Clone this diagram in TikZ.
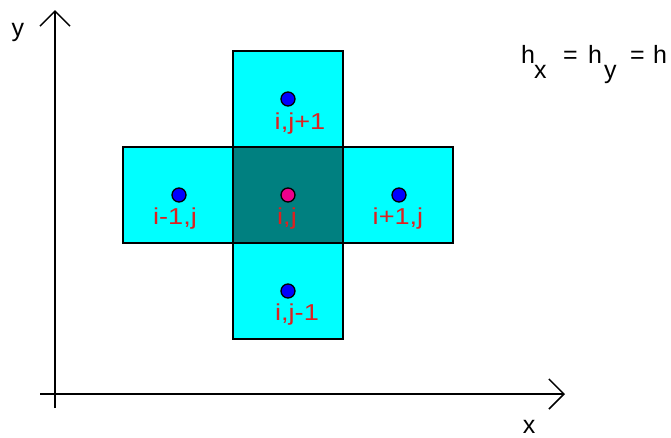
\documentclass[tikz,border=0pt]{standalone}
\usepackage{fontspec}
\setmainfont{Liberation Sans}
\usetikzlibrary{arrows.meta}
\definecolor{cellcyan}{RGB}{0,255,255}
\definecolor{celldark}{RGB}{0,128,128}
\definecolor{lblred}{RGB}{222,32,32}
\tikzset{
  cell/.style={draw=black, line width=1.6pt, fill=cellcyan, minimum width=110pt, minimum height=96pt, inner sep=0pt},
  centercell/.style={cell, fill=celldark},
  pt/.style={circle, draw=black, line width=1.3pt, fill=blue, minimum size=14pt, inner sep=0pt},
  ptc/.style={pt, fill=magenta},
  lbl/.style={text=lblred, font=\fontsize{23}{26}\selectfont, anchor=base, inner sep=0pt},
  axis/.style={line width=1.5pt, -{Straight Barb[length=15pt,width=30pt,line width=1.5pt]}},
  axlbl/.style={font=\fontsize{25}{28}\selectfont, anchor=base, inner sep=0pt},
  rel/.style={font=\fontsize{25}{28}\selectfont, anchor=base west, inner sep=0pt}
}
\newcommand{\wide}[1]{\scalebox{1.18}[1]{#1}}
\begin{document}
\begin{tikzpicture}[x=1pt,y=-1pt]
\useasboundingbox (0,0) rectangle (671,437);
% cells
\node[cell] (top) at (288,99) {};
\node[cell] (left) at (178,195) {};
\node[cell] (right) at (398,195) {};
\node[cell] (bottom) at (288,291) {};
\node[centercell] (center) at (288,195) {};
% points
\node[pt] (ptop) at (288,99) {};
\node[pt] (pleft) at (179,195) {};
\node[pt] (pright) at (399,195) {};
\node[pt] (pbottom) at (288,291) {};
\node[ptc] (pcenter) at (288,195) {};
% labels
\node[lbl] (ltop) at (300,129) {\wide{i,j+1}};
\node[lbl] (lleft) at (175,224) {\wide{i-1,j}};
\node[lbl] (lcenter) at (287,224) {\wide{i,j}};
\node[lbl] (lright) at (398,224) {\wide{i+1,j}};
\node[lbl] (lbottom) at (297,320) {\wide{i,j-1}};
% axes
\coordinate (ybot) at (55,408);
\coordinate (ytop) at (55,10);
\coordinate (xleft) at (40,394);
\coordinate (xright) at (565,394);
\draw[axis] (ybot) -- (ytop);
\draw[axis] (xleft) -- (xright);
\node[axlbl] (ylbl) at (18,36) {y};
\node[axlbl] (xlbl) at (529,433) {x};
% spacing relation
\node[rel] (h1) at (521,63) {h};
\node[rel] (sx) at (534,78) {x};
\node[rel] (eq1) at (563,63) {=};
\node[rel] (h2) at (588,63) {h};
\node[rel] (sy) at (604,78) {y};
\node[rel] (eq2) at (630,63) {=};
\node[rel] (h3) at (653,63) {h};
\end{tikzpicture}
\end{document}
